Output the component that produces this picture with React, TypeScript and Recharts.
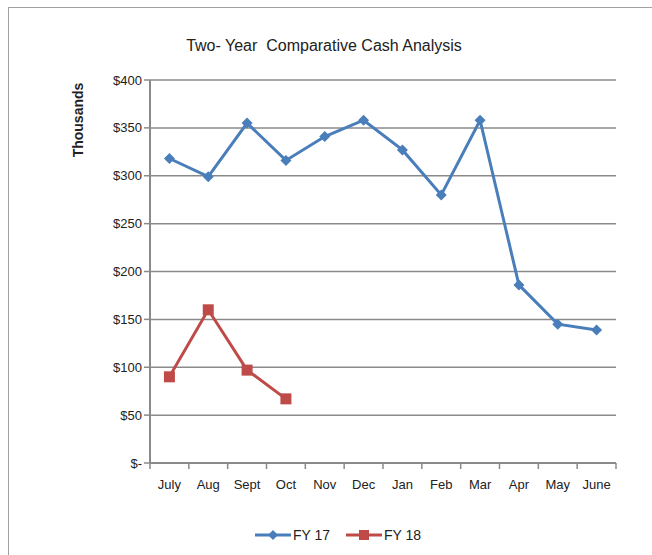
import React from "react";
import {
  LineChart,
  Line,
  XAxis,
  YAxis,
  CartesianGrid,
  Legend,
} from "recharts";

const months = ["July", "Aug", "Sept", "Oct", "Nov", "Dec", "Jan", "Feb", "Mar", "Apr", "May", "June"];
const fy17 = [318, 299, 355, 316, 341, 358, 327, 280, 358, 186, 145, 139];
const fy18: (number | null)[] = [90, 160, 97, 67, null, null, null, null, null, null, null, null];
const yTicks = [0, 50, 100, 150, 200, 250, 300, 350, 400];

const data = months.map((m, i) => ({ month: m, fy17: fy17[i], fy18: fy18[i] }));

const FONT = "'Liberation Sans', Arial, sans-serif";
const BLUE = "#4A7EBB";
const RED = "#BE4B48";
const AXIS = "#8a8a8a";

const W = 652;
const H = 555;
const PLOT_LEFT = 150;
const PLOT_RIGHT = 616;
const BAND = (PLOT_RIGHT - PLOT_LEFT) / months.length;

function Diamond(props: any) {
  const { cx, cy } = props;
  if (cx == null || cy == null) return null;
  const r = 5.5;
  return (
    <path
      d={`M${cx},${cy - r} L${cx + r},${cy} L${cx},${cy + r} L${cx - r},${cy} Z`}
      fill={BLUE}
    />
  );
}

function Square(props: any) {
  const { cx, cy, value } = props;
  if (cx == null || cy == null || value == null) return null;
  const r = 5.5;
  return <rect x={cx - r} y={cy - r} width={r * 2} height={r * 2} fill={RED} />;
}

function MonthTick(props: any) {
  const { x, y, payload, index } = props;
  const last = index === months.length - 1;
  const axisY = y - 2;
  return (
    <g>
      <line x1={x - BAND / 2} y1={axisY - 6} x2={x - BAND / 2} y2={axisY} stroke={AXIS} strokeWidth={1.5} />
      {last && (
        <line x1={x + BAND / 2} y1={axisY - 6} x2={x + BAND / 2} y2={axisY} stroke={AXIS} strokeWidth={1.5} />
      )}
      <text x={x} y={y + 18} textAnchor="middle" fontSize={13} fill="#222" fontFamily={FONT}>
        {payload.value}
      </text>
    </g>
  );
}

const fmt = (v: number) => (v === 0 ? "$-" : `$${v}`);

function LegendContent() {
  const items = [
    { label: "FY 17", color: BLUE, kind: "diamond" },
    { label: "FY 18", color: RED, kind: "square" },
  ];
  return (
    <div style={{ display: "flex", justifyContent: "center", gap: 16, fontFamily: FONT, fontSize: 14, color: "#222" }}>
      {items.map((it) => (
        <div key={it.label} style={{ display: "flex", alignItems: "center", gap: 2 }}>
          <svg width={36} height={12}>
            <line x1={0} y1={6} x2={36} y2={6} stroke={it.color} strokeWidth={3} />
            {it.kind === "diamond" ? (
              <path d="M18,1 L23,6 L18,11 L13,6 Z" fill={it.color} />
            ) : (
              <rect x={13} y={1} width={10} height={10} fill={it.color} />
            )}
          </svg>
          <span>{it.label}</span>
        </div>
      ))}
    </div>
  );
}

export default function App() {
  return (
    <div style={{ position: "absolute", left: 0, top: 0, width: W, height: H, background: "#fff", overflow: "hidden" }}>
      <div
        style={{
          position: "absolute",
          left: 8,
          top: 7,
          width: W,
          height: H,
          borderLeft: "1.5px solid #a0a0a0",
          borderTop: "1.5px solid #a0a0a0",
        }}
      />
      <div
        style={{
          position: "absolute",
          left: 0,
          width: 648,
          top: 37,
          textAlign: "center",
          fontFamily: FONT,
          fontSize: 16,
          color: "#222",
          whiteSpace: "pre",
        }}
      >
        {"Two- Year  Comparative Cash Analysis"}
      </div>
      <div
        style={{
          position: "absolute",
          left: 78,
          top: 120,
          transform: "translate(-50%, -50%) rotate(-90deg)",
          fontFamily: FONT,
          fontSize: 14,
          fontWeight: "bold",
          color: "#222",
        }}
      >
        Thousands
      </div>
      <div style={{ position: "absolute", left: 0, top: 0 }}>
        <LineChart
          width={W}
          height={H}
          data={data}
          margin={{ top: 80, right: W - PLOT_RIGHT, bottom: 62, left: 90 }}
        >
          <CartesianGrid vertical={false} stroke={AXIS} strokeWidth={1.5} />
          <XAxis
            dataKey="month"
            height={30}
            padding={{ left: BAND / 2, right: BAND / 2 }}
            axisLine={{ stroke: AXIS, strokeWidth: 2 }}
            tickLine={false}
            tick={<MonthTick />}
            interval={0}
          />
          <YAxis
            width={60}
            domain={[0, 400]}
            ticks={yTicks}
            tickFormatter={fmt}
            axisLine={{ stroke: AXIS, strokeWidth: 2 }}
            tickLine={{ stroke: AXIS, strokeWidth: 1.5 }}
            tickSize={6}
            tick={{ fontSize: 13, fill: "#222", fontFamily: FONT }}
          />
          <Line
            type="linear"
            dataKey="fy17"
            name="FY 17"
            stroke={BLUE}
            strokeWidth={3}
            dot={<Diamond />}
            isAnimationActive={false}
          />
          <Line
            type="linear"
            dataKey="fy18"
            name="FY 18"
            stroke={RED}
            strokeWidth={3}
            dot={<Square />}
            connectNulls={false}
            isAnimationActive={false}
          />
          <Legend
            layout="horizontal"
            verticalAlign="middle"
            content={<LegendContent />}
            wrapperStyle={{ top: 527, left: 0, width: 676 }}
          />
        </LineChart>
      </div>
    </div>
  );
}
